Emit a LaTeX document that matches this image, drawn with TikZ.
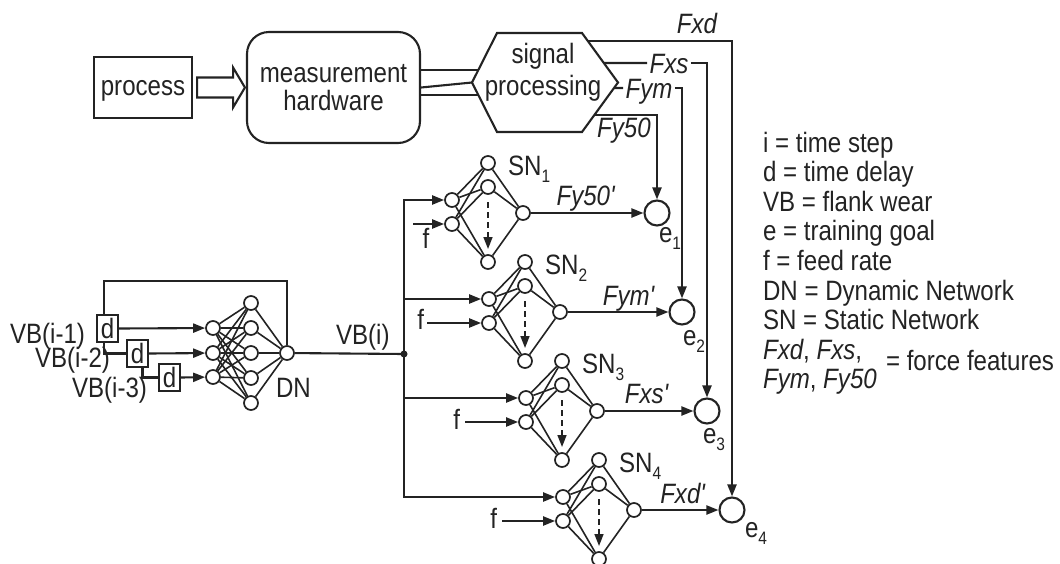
\documentclass[tikz,border=0pt]{standalone}
\usepackage{fontspec}
\setmainfont{Liberation Sans}[FakeStretch=0.86]
\usetikzlibrary{arrows.meta,calc}
\definecolor{ink}{RGB}{35,35,35}
\newcommand\lowidx[1]{\raisebox{-7pt}{\fontsize{18}{18}\selectfont #1}}
\begin{document}
\begin{tikzpicture}[x=1pt,y=-1pt,line width=2.1pt,color=ink,
  every node/.style={font=\fontsize{28}{28}\selectfont, inner sep=0pt},
  arr/.style={-{Triangle[length=12pt,width=9pt]}},
  neu/.style={circle,draw,fill=white,minimum size=14pt,inner sep=0pt,line width=1.7pt},
  wire/.style={line width=1.6pt},
  dbox/.style={draw,minimum width=21pt,minimum height=27pt,inner sep=0pt,text height=20pt,text depth=0pt},
  ecirc/.style={circle,draw,minimum size=25pt,inner sep=0pt},
  mid/.style={text height=20pt,text depth=0pt},
  dsh/.style={dash pattern=on 6pt off 4pt},
]
\useasboundingbox (0,0) rectangle (1060,563);
\fill[white] (0,0) rectangle (1060,563);

% ---------- top chain ----------
\node[draw,minimum width=98pt,minimum height=61pt,text height=20pt,text depth=5pt] (proc) at (143,87.5) {process};
\node[draw,rounded corners=22pt,minimum width=173pt,minimum height=111pt,align=center] (meas) at (333.5,87.5) {measurement\\hardware};
\draw ($(proc.east)+(4,-10)$) -- ($(proc.east)+(40,-10)$) -- ($(proc.east)+(40,-20)$)
  -- ($(meas.west)+(-1,0)$) -- ($(proc.east)+(40,20)$) -- ($(proc.east)+(40,10)$)
  -- ($(proc.east)+(4,10)$) -- cycle;

\coordinate (hL) at (472,82.5);
\coordinate (hTL) at (497,33);
\coordinate (hTR) at (582,33);
\coordinate (hR) at (618,82.5);
\coordinate (hBR) at (582,132);
\coordinate (hBL) at (497,132);
\draw (hL) -- (hTL) -- (hTR) -- (hR) -- (hBR) -- (hBL) -- cycle;
\node[align=center,font=\fontsize{28}{32}\selectfont] (sig) at (543,72) {signal\\processing};

\coordinate (m1) at ($(hL)!0.25!(hTL)$);
\coordinate (m3) at ($(hL)!0.25!(hBL)$);
\draw (meas.east |- m1) -- (m1);
\draw (meas.east) -- (hL);
\draw (meas.east |- m3) -- (m3);

% ---------- goal circles ----------
\node[ecirc] (e1) at (657,213) {};
\node[ecirc] (e2) at (682,312) {};
\node[ecirc] (e3) at (707,411) {};
\node[ecirc] (e4) at (732,510) {};
\node[anchor=base west] (le1) at (658,242) {e\lowidx{1}};
\node[anchor=base west] (le2) at (682,345) {e\lowidx{2}};
\node[anchor=base west] (le3) at (702,443) {e\lowidx{3}};
\node[anchor=base west] (le4) at (744,537) {e\lowidx{4}};

% ---------- force features ----------
\coordinate (sxd) at ($(hTR)!0.16!(hR)$);
\coordinate (sxs) at ($(hTR)!0.606!(hR)$);
\coordinate (sym) at ($(hR)!0.111!(hBR)$);
\coordinate (sy5) at ($(hR)!0.657!(hBR)$);
\draw[arr] (sxd) -| (e4.north);
\node[anchor=base] (lfxd) at (697,33) {\itshape Fxd};
\node[mid,inner xsep=1.5pt] (lfxs) at (669,63) {\itshape Fxs};
\draw (sxs) -- (lfxs.west);
\draw[arr] (lfxs.east) -| (e3.north);
\node[mid,inner xsep=1.5pt] (lfym) at (649,88) {\itshape Fym};
\draw (sym) -- (lfym.west);
\draw[arr] (lfym.east) -| (e2.north);
\draw[arr] (sy5) -| (e1.north);
\node[anchor=base] (lfy5) at (624,137) {\itshape Fy50};

% ---------- dynamic network ----------
\node[neu] (dn1) at (213,328) {};
\node[neu] (dn2) at (213,353) {};
\node[neu] (dn3) at (213,377) {};
\foreach \j/\yy in {1/303,2/328,3/353,4/378,5/403}{
  \node[neu] (dh\j) at (251,\yy) {};
}
\node[neu] (dno) at (287,353) {};
\foreach \i in {1,2,3}{\foreach \j in {1,...,5}{\draw[wire] (dn\i) -- (dh\j);}}
\foreach \j in {1,...,5}{\draw[wire] (dh\j) -- (dno);}
\node[dbox] (d1) at (107.5,328.5) {d};
\node[dbox] (d2) at (137.5,353.5) {d};
\node[dbox] (d3) at (169.5,377.5) {d};
\coordinate (fb) at (104,281);
\draw (dno.north) |- (fb) -- (fb |- d1.north);
\draw (fb |- d1.south) |- (d2.west);
\draw ([xshift=5pt]d2.south) |- (d3.west);
\draw[arr] (d1.east) -- (dn1);
\draw[arr] (d2.east) -- (dn2);
\draw[arr] (d3.east) -- (dn3);
\node[anchor=base east] (vb1) at (86,343) {VB(i-1)};
\node[anchor=base east] (vb2) at (111,367) {VB(i-2)};
\node[anchor=base east] (vb3) at (148,397) {VB(i-3)};
\node[anchor=base west] (ldn) at (275,397) {DN};
\node[anchor=base west] (vbi) at (335,344) {VB(i)};

% ---------- static networks ----------
\foreach \k in {1,2,3,4}{
  \pgfmathsetmacro\dx{37*(\k-1)}
  \pgfmathsetmacro\dy{99*(\k-1)}
  \begin{scope}[shift={(\dx,\dy)}]
    \node[neu] (s\k a) at (452,200) {};
    \node[neu] (s\k b) at (452,224) {};
    \node[neu] (s\k h1) at (488,163) {};
    \node[neu] (s\k h2) at (488,187) {};
    \node[neu] (s\k h3) at (488,262) {};
    \node[neu] (s\k o) at (523,213) {};
    \foreach \h in {h1,h2,h3}{
      \draw[wire] (s\k a) -- (s\k\h);
      \draw[wire] (s\k b) -- (s\k\h);
      \draw[wire] (s\k\h) -- (s\k o);
    }
    \draw[arr,dsh,line width=1.6pt] (488,202) -- (488,249);
    \node[anchor=base west] (sl\k) at (507,175) {SN\lowidx{\k}};
  \end{scope}
}
\draw[arr] (s1o) -- (e1);
\draw[arr] (s2o) -- (e2);
\draw[arr] (s3o) -- (e3);
\draw[arr] (s4o) -- (e4);
\node[anchor=base] (p1) at (586,205) {\itshape Fy50\textquotesingle};
\node[anchor=base] (p2) at (629,305) {\itshape Fym\textquotesingle};
\node[anchor=base] (p3) at (647,403) {\itshape Fxs\textquotesingle};
\node[anchor=base] (p4) at (683,503) {\itshape Fxd\textquotesingle};

% trunk
\coordinate (jn) at (404,354);
\draw (dno) -- (jn);
\fill (jn) circle (3.5pt);
\draw[arr] (jn) |- (s1a);
\draw[arr] (jn) |- (s4a);
\draw[arr] (jn |- s2a) -- (s2a);
\draw[arr] (jn |- s3a) -- (s3a);

% feed-rate inputs
\coordinate (f1) at (413,224);
\coordinate (f2) at (427,323);
\coordinate (f3) at (465,422);
\coordinate (f4) at (502,521);
\draw[arr] (f1) -- (s1b);
\draw[arr] (f2) -- (s2b);
\draw[arr] (f3) -- (s3b);
\draw[arr] (f4) -- (s4b);
\node[anchor=base] (lf1) at (426,248) {f};
\node[anchor=base east] (lf2) at (425,329) {f};
\node[anchor=base east] (lf3) at (461,429) {f};
\node[anchor=base east] (lf4) at (498,528) {f};

% ---------- legend ----------
\node[anchor=base west] (lg1) at (762,152) {i = time step};
\node[anchor=base west] (lg2) at (762,181.6) {d = time delay};
\node[anchor=base west] (lg3) at (762,211.2) {VB = flank wear};
\node[anchor=base west] (lg4) at (762,240.8) {e = training goal};
\node[anchor=base west] (lg5) at (762,270.4) {f = feed rate};
\node[anchor=base west] (lg6) at (762,300) {DN = Dynamic Network};
\node[anchor=base west] (lg7) at (762,329.6) {SN = Static Network};
\node[anchor=base west] (lg8) at (762,359.2) {\textit{Fxd}, \textit{Fxs},};
\node[anchor=base west] (lg9) at (762,388) {\textit{Fym}, \textit{Fy50}};
\node[anchor=base west] (lg10) at (885,370) {= force features};
\end{tikzpicture}
\end{document}
